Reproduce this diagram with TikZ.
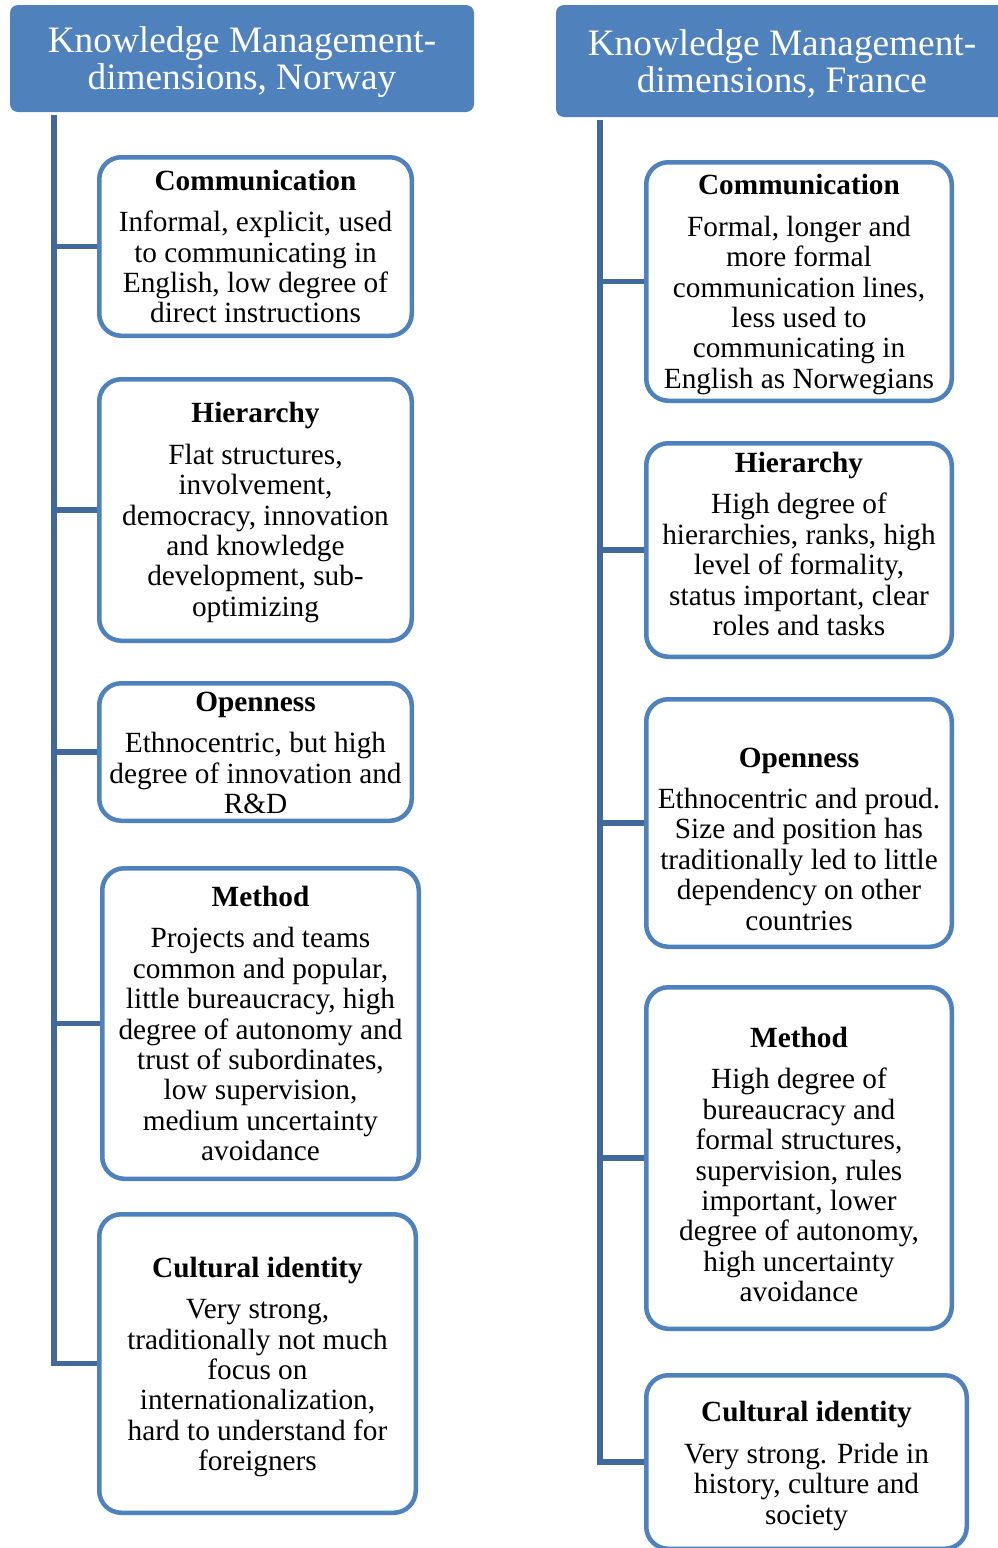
\documentclass[tikz,border=0pt]{standalone}
\usepackage{fontspec}
\setmainfont{Liberation Serif}
\definecolor{hdrblue}{HTML}{4F81BD}
\definecolor{boxblue}{HTML}{4F81BD}
\definecolor{connblue}{HTML}{41699B}
\tikzset{
  hdr/.style={fill=hdrblue, rounded corners=8pt, inner sep=0pt},
  hdrtext/.style={text=white, align=center, inner sep=0pt,
    font=\fontsize{37.3}{37}\selectfont},
  dimbox/.style={draw=boxblue, line width=4.5pt, rounded corners=22pt, fill=white, inner sep=0pt},
  boxtext/.style={align=center, inner sep=0pt, font=\fontsize{29.3}{30.4}\selectfont},
  conn/.style={draw=connblue, line width=5.5pt}
}
\newcommand{\ttl}[1]{\textbf{#1}\\[11pt]}
\begin{document}
\begin{tikzpicture}[x=1pt,y=-1pt]
\fill[white] (0,0) rectangle (998,1548);
\useasboundingbox (0,0) rectangle (998,1548);

% ---------------- Norway ----------------
\node[hdr, minimum width=464pt, minimum height=107pt] (hn) at (242,58.5) {};
\node[hdrtext] (hnt) at ([yshift=-4pt]hn.center) {Knowledge Management-\\dimensions, Norway};

\node[dimbox, minimum width=312.5pt, minimum height=178.5pt] (nc) at (255.5,246.5) {};
\node[boxtext] (nct) at (nc.center)
  {\ttl{Communication}Informal, explicit, used\\to communicating in\\English, low degree of\\direct instructions};
\node[dimbox, minimum width=312.5pt, minimum height=261.5pt] (nh) at (255.5,510) {};
\node[boxtext] (nht) at ([yshift=-2.5pt]nh.center)
  {\ttl{Hierarchy}Flat structures,\\involvement,\\democracy, innovation\\and knowledge\\development, sub-\\optimizing};
\node[dimbox, minimum width=312.5pt, minimum height=137.5pt] (no) at (255.5,752) {};
\node[boxtext] (not) at ([yshift=-1pt]no.center)
  {\ttl{Openness}Ethnocentric, but high\\degree of innovation and\\R\&D};
\node[dimbox, minimum width=316.5pt, minimum height=310.5pt] (nm) at (260.5,1023.5) {};
\node[boxtext] (nmt) at (nm.center)
  {\ttl{Method}Projects and teams\\common and popular,\\little bureaucracy, high\\degree of autonomy and\\trust of subordinates,\\low supervision,\\medium uncertainty\\avoidance};
\node[dimbox, minimum width=316.5pt, minimum height=298.5pt] (ncu) at (257.5,1363.5) {};
\node[boxtext] (ncut) at ([yshift=-3.5pt]ncu.center)
  {\ttl{Cultural identity}Very strong,\\traditionally not much\\focus on\\internationalization,\\hard to understand for\\foreigners};

\coordinate (nv) at (54,115);
\draw[conn] (nv) |- (ncu.west);
\draw[conn] (nv |- nc.west) -- (nc.west);
\draw[conn] (nv |- nh.west) -- (nh.west);
\draw[conn] (nv |- no.west) -- (no.west);
\draw[conn] (nv |- nm.west) -- (nm.west);

% ---------------- France ----------------
\node[hdr, minimum width=452pt, minimum height=112pt] (hf) at (782,61) {};
\node[hdrtext] (hft) at ([yshift=-2.5pt]hf.center) {Knowledge Management-\\dimensions, France};

\node[dimbox, minimum width=305.5pt, minimum height=238.5pt] (fc) at (799,281.5) {};
\node[boxtext] (fct) at ([yshift=-3pt]fc.center)
  {\ttl{Communication}Formal, longer and\\more formal\\communication lines,\\less used to\\communicating in\\English as Norwegians};
\node[dimbox, minimum width=305.5pt, minimum height=213.5pt] (fh) at (799,550) {};
\node[boxtext] (fht) at ([yshift=6pt]fh.center)
  {\ttl{Hierarchy}High degree of\\hierarchies, ranks, high\\level of formality,\\status important, clear\\roles and tasks};
\node[dimbox, minimum width=305.5pt, minimum height=247.5pt] (fo) at (799,823) {};
\node[boxtext] (fot) at ([yshift=-16pt]fo.center)
  {\ttl{Openness}Ethnocentric and proud.\\Size and position has\\traditionally led to little\\dependency on other\\countries};
\node[dimbox, minimum width=305.5pt, minimum height=341.5pt] (fm) at (799,1158) {};
\node[boxtext] (fmt) at ([yshift=-6.5pt]fm.center)
  {\ttl{Method}High degree of\\bureaucracy and\\formal structures,\\supervision, rules\\important, lower\\degree of autonomy,\\high uncertainty\\avoidance};
\node[dimbox, minimum width=320.5pt, minimum height=173.5pt] (fcu) at (806.5,1462) {};
\node[boxtext] (fcut) at ([yshift=-4pt]fcu.center)
  {\ttl{Cultural identity}Very strong. Pride in\\history, culture and\\society};

\coordinate (fv) at (600,120);
\draw[conn] (fv) |- (fcu.west);
\draw[conn] (fv |- fc.west) -- (fc.west);
\draw[conn] (fv |- fh.west) -- (fh.west);
\draw[conn] (fv |- fo.west) -- (fo.west);
\draw[conn] (fv |- fm.west) -- (fm.west);
\end{tikzpicture}
\end{document}
